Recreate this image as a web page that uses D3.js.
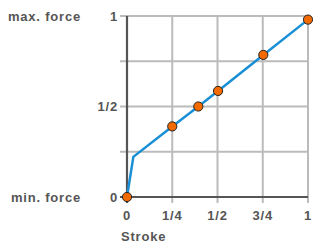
<!DOCTYPE html>
<html>
<head>
<meta charset="utf-8">
<script src="https://cdn.jsdelivr.net/npm/d3@7"></script>
<style>
  body { margin: 0; background: #fff; }
  text { font-family: "Liberation Sans", Arial, sans-serif; font-weight: bold; fill: #555; font-size: 13px; letter-spacing: 0.8px; }
</style>
</head>
<body>
<svg id="grafico" width="313" height="243"></svg>
<script>
// curva carrera / fuerza
const carrera = [0, 0.035, 0.25, 0.394, 0.503, 0.753, 1];
const fuerza = [0, 0.222, 0.39, 0.5, 0.586, 0.785, 0.98];
const con_punto = [true, false, true, true, true, true, true];
const ticks = [0, 0.25, 0.5, 0.75, 1];
const etiquetas_x = ['0', '1/4', '1/2', '3/4', '1'];
const etiquetas_y = {0: '0', 0.5: '1/2', 1: '1'};

const margen = {left: 127, right: 5, top: 16, bottom: 46};
const svg = d3.select('#grafico');
const ancho = 313, alto = 243;

const x = d3.scaleLinear().domain([0, 1]).range([margen.left, ancho - margen.right]);
const y = d3.scaleLinear().domain([0, 1]).range([alto - margen.bottom, margen.top]);

const grilla = svg.append('g');
grilla.selectAll('.vx')
    .data(ticks.slice(1))
    .join('line')
    .attr('x1', d => x(d)).attr('x2', d => x(d))
    .attr('y1', y(1)).attr('y2', y(0) + 6)
    .attr('stroke', '#bbb').attr('stroke-width', 2);
grilla.selectAll('.hy')
    .data(ticks.slice(1))
    .join('line')
    .attr('y1', d => y(d)).attr('y2', d => y(d))
    .attr('x1', x(0) - 7).attr('x2', x(1))
    .attr('stroke', '#bbb').attr('stroke-width', 2);

// ejes
svg.append('line')
    .attr('x1', x(0)).attr('x2', x(0))
    .attr('y1', y(1)).attr('y2', y(0) + 6)
    .attr('stroke', '#555').attr('stroke-width', 2.2);
svg.append('line')
    .attr('x1', x(0) - 7).attr('x2', x(1))
    .attr('y1', y(0)).attr('y2', y(0))
    .attr('stroke', '#555').attr('stroke-width', 2.2);

svg.selectAll('.lx')
    .data(ticks)
    .join('text')
    .attr('x', d => x(d))
    .attr('y', y(0) + 23)
    .attr('text-anchor', 'middle')
    .text((d, i) => etiquetas_x[i]);

svg.selectAll('.ly')
    .data(Object.keys(etiquetas_y).map(Number))
    .join('text')
    .attr('x', x(0) - 9)
    .attr('y', d => y(d) + 4.5)
    .attr('text-anchor', 'end')
    .text(d => etiquetas_y[d]);

svg.append('text').attr('x', 81).attr('y', y(1) + 4.5).attr('text-anchor', 'end').text('max. force');
svg.append('text').attr('x', 81).attr('y', y(0) + 4.5).attr('text-anchor', 'end').text('min. force');
svg.append('text').attr('x', 121).attr('y', 241).text('Stroke');

const datos = carrera.map((c, i) => ({c: c, f: fuerza[i], p: con_punto[i]}));

svg.append('path')
    .datum(datos)
    .attr('fill', 'none')
    .attr('stroke', '#1a8fd6')
    .attr('stroke-width', 2.5)
    .attr('d', d3.line().x(d => x(d.c)).y(d => y(d.f)));

svg.selectAll('.punto')
    .data(datos.filter(d => d.p))
    .join('circle')
    .attr('cx', d => x(d.c))
    .attr('cy', d => y(d.f))
    .attr('r', 4.6)
    .attr('fill', '#f26a00')
    .attr('stroke', '#222')
    .attr('stroke-width', 1);
</script>
</body>
</html>
